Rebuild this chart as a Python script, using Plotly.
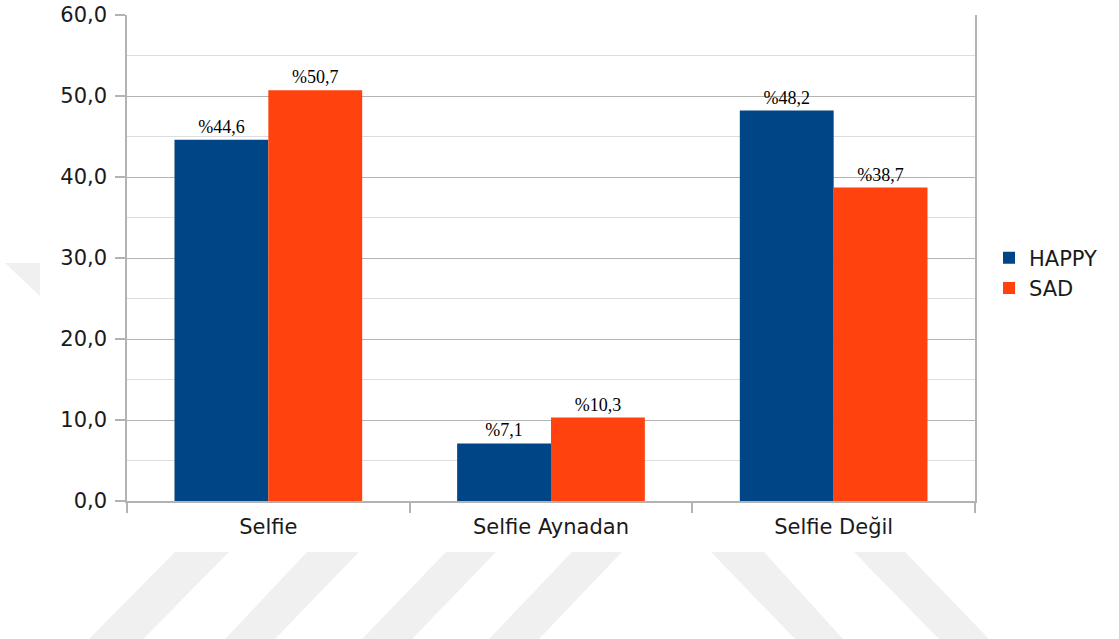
import plotly.graph_objects as go

# Survey results (%) per category
categories = ["Selfie", "Selfie Aynadan", "Selfie Değil"]
happy = [44.6, 7.1, 48.2]
sad = [50.7, 10.3, 38.7]
y_ticks = [0, 10, 20, 30, 40, 50, 60]

W, H = 1119, 639
ML, MR, MT, MB = 127, 144, 15, 138
PW, PH = W - ML - MR, H - MT - MB


def px_to_paper(x, y):
    return (x - ML) / PW, (H - MB - y) / PH


def poly_path(points):
    pts = [px_to_paper(x, y) for x, y in points]
    return "M " + " L ".join(f"{a:.4f},{b:.4f}" for a, b in pts) + " Z"


def label(v):
    return "%" + f"{v:.1f}".replace(".", ",")


fig = go.Figure()
fig.add_trace(go.Bar(
    name="HAPPY", x=categories, y=happy,
    marker=dict(color="#004586", line=dict(width=0)),
    text=[label(v) for v in happy], textposition="outside",
    textfont=dict(family="Liberation Serif", size=18, color="#000000"),
    constraintext="none", cliponaxis=False,
))
fig.add_trace(go.Bar(
    name="SAD", x=categories, y=sad,
    marker=dict(color="#ff420e", line=dict(width=0)),
    text=[label(v) for v in sad], textposition="outside",
    textfont=dict(family="Liberation Serif", size=18, color="#000000"),
    constraintext="none", cliponaxis=False,
))

# faint background stripes
stripes = [
    [(175, 552), (229, 552), (143, 639), (89, 639)],
    [(307, 552), (359, 552), (275, 639), (225, 639)],
    [(446, 552), (496, 552), (412, 639), (362, 639)],
    [(572, 552), (622, 552), (539, 639), (489, 639)],
    [(711, 552), (764, 552), (843, 639), (795, 639)],
    [(854, 552), (905, 552), (989, 639), (939, 639)],
    [(5, 263), (40, 263), (40, 296)],
]
shapes = [
    dict(type="path", xref="paper", yref="paper", path=poly_path(s),
         fillcolor="#f0f0f0", line=dict(width=0), layer="below")
    for s in stripes
]

fig.update_layout(
    width=W, height=H,
    margin=dict(l=ML, r=MR, t=MT, b=MB, pad=0, autoexpand=False),
    paper_bgcolor="white", plot_bgcolor="white",
    barmode="group", bargap=0.336, bargroupgap=0,
    separators=",.",
    font=dict(family="DejaVu Sans", size=21, color="#1a1a1a"),
    showlegend=True,
    legend=dict(x=px_to_paper(989, 0)[0], y=px_to_paper(0, 273)[1],
                xanchor="left", yanchor="middle",
                font=dict(family="DejaVu Sans", size=21, color="#1a1a1a"),
                bgcolor="rgba(0,0,0,0)", itemwidth=30),
    shapes=shapes,
    xaxis=dict(
        type="category", tickson="boundaries", ticks="outside", ticklen=10,
        tickcolor="#b3b3b3", tickwidth=1.5,
        showline=True, linecolor="#b3b3b3", linewidth=1.5, mirror=False,
        showgrid=False, tickfont=dict(size=21), ticklabelstandoff=6,
        fixedrange=True, automargin=False,
    ),
    yaxis=dict(
        range=[0, 60], tickvals=y_ticks, tickformat=".1f",
        ticks="outside", ticklen=10, tickcolor="#b3b3b3", tickwidth=1.5,
        showline=True, linecolor="#b3b3b3", linewidth=1.5, mirror=True,
        showgrid=True, gridcolor="#b3b3b3", gridwidth=1,
        minor=dict(dtick=5, showgrid=True, gridcolor="#dddddd", gridwidth=1),
        zeroline=False, tickfont=dict(size=21), ticklabelstandoff=4,
        fixedrange=True, automargin=False,
    ),
)

fig.write_html("out.html")
